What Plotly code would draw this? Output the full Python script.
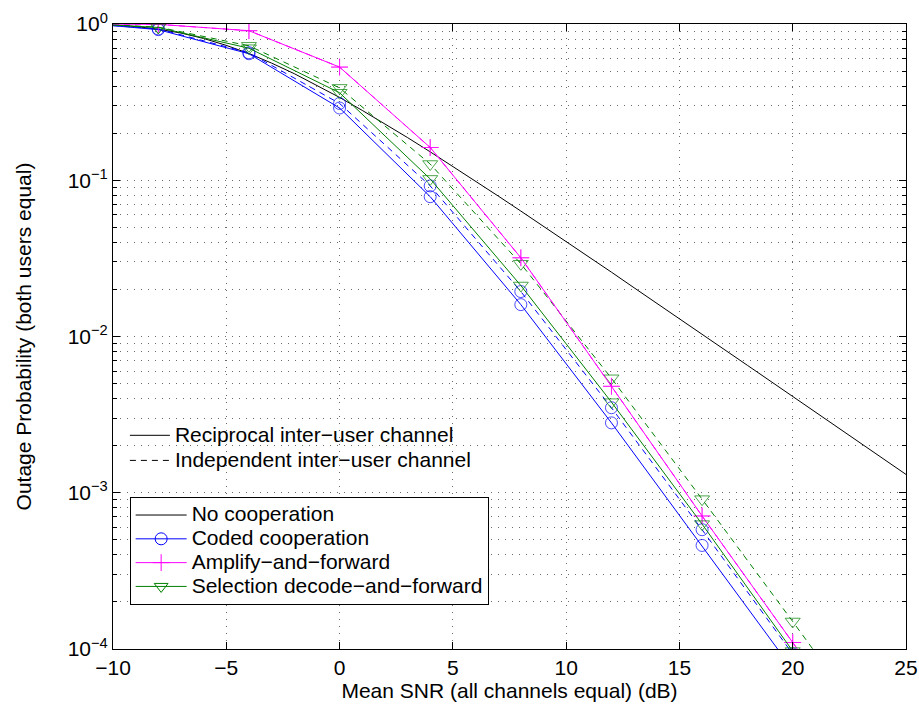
import plotly.graph_objects as go

# ---------------- data ----------------
snr_nocoop = [-10, -9, -8, -7, -6, -5, -4, -3, -2, -1, 0, 1, 2, 3, 4, 5, 6, 7, 8, 9, 10,
              11, 12, 13, 14, 15, 16, 17, 18, 19, 20, 21, 22, 23, 24, 25]
p_nocoop = [0.984, 0.963, 0.927, 0.875, 0.808, 0.730, 0.647, 0.562, 0.481, 0.406, 0.339,
            0.280, 0.230, 0.1875, 0.152, 0.1228, 0.0988, 0.0793, 0.0635, 0.0508, 0.0406,
            0.0324, 0.0258, 0.0205, 0.01635, 0.0130, 0.01035, 0.00823, 0.00654, 0.0052,
            0.00413, 0.00329, 0.00261, 0.00208, 0.00165, 0.00131]

snr_coop = [-10, -8, -4, 0, 4, 8, 12, 16, 20, 24]
coded_recip = [0.975, 0.92, 0.645, 0.29, 0.0785, 0.016, 0.0028, 0.00046, 7.5e-5, 1.2e-5]
coded_indep = [0.978, 0.93, 0.655, 0.31, 0.092, 0.0194, 0.0035, 0.00058, 9.3e-5, 1.5e-5]
af_recip = [0.998, 0.995, 0.906, 0.53, 0.162, 0.0319, 0.0048, 0.00071, 0.00011, 1.7e-5]
af_indep = [0.998, 0.995, 0.906, 0.53, 0.162, 0.0319, 0.0048, 0.00071, 0.00011, 1.7e-5]
sdf_recip = [0.985, 0.95, 0.70, 0.363, 0.102, 0.0212, 0.0038, 0.00063, 9.7e-5, 1.5e-5]
sdf_indep = [0.987, 0.955, 0.725, 0.39, 0.127, 0.0292, 0.0054, 0.00091, 0.00015, 2.4e-5]

ytick_vals = [1e-4, 1e-3, 1e-2, 1e-1, 1]
ytick_text = ["10<sup>\u22124</sup>", "10<sup>\u22123</sup>", "10<sup>\u22122</sup>",
              "10<sup>\u22121</sup>", "10<sup>0</sup>"]

legend_names = ["No cooperation", "Coded cooperation", "Amplify\u2212and\u2212forward",
                "Selection decode\u2212and\u2212forward"]
style_names = ["Reciprocal inter\u2212user channel", "Independent inter\u2212user channel"]

# ---------------- styles ----------------
BLUE = "#0000FF"
MAG = "#FF00FF"
GREEN = "#008000"
BLACK = "#000000"
DASH = "6px,5px"
FONT = "Liberation Sans, Arial, Helvetica, sans-serif"
LEG_TXT = '<span style="font-size:21px">{}</span>'

fig = go.Figure()

fig.add_trace(go.Scatter(x=snr_nocoop, y=p_nocoop, mode="lines",
                         line=dict(color=BLACK, width=1), showlegend=False))

def coop(y, color, symbol, msize, dash):
    sizes = [0] + [msize] * (len(snr_coop) - 1)
    fig.add_trace(go.Scatter(
        x=snr_coop, y=y, mode="lines+markers",
        line=dict(color=color, width=1, dash=dash),
        marker=dict(symbol=symbol, size=sizes, color=color,
                    line=dict(color=color, width=1)),
        showlegend=False))

coop(coded_indep, BLUE, "circle-open", 12, DASH)
coop(af_indep, MAG, "cross-thin-open", 12, DASH)
coop(sdf_indep, GREEN, "triangle-down-open", 13, DASH)
coop(coded_recip, BLUE, "circle-open", 12, "solid")
coop(af_recip, MAG, "cross-thin-open", 12, "solid")
coop(sdf_recip, GREEN, "triangle-down-open", 13, "solid")

# legend entries (boxed legend)
leg_styles = [(BLACK, None), (BLUE, "circle-open"), (MAG, "cross-thin-open"),
              (GREEN, "triangle-down-open")]
for name, (c, sym) in zip(legend_names, leg_styles):
    fig.add_trace(go.Scatter(
        x=[None], y=[None], name=LEG_TXT.format(name),
        mode="lines+markers" if sym else "lines",
        line=dict(color=c, width=1),
        marker=dict(symbol=sym if sym else "circle", size=12, color=c,
                    line=dict(color=c, width=1)),
        legend="legend"))

# line-style legend (no box)
for name, d in zip(style_names, ["solid", DASH]):
    fig.add_trace(go.Scatter(x=[None], y=[None], name=LEG_TXT.format(name), mode="lines",
                             line=dict(color=BLACK, width=1, dash=d),
                             legend="legend2"))

grid_common = dict(showgrid=True, gridcolor="#6a6a6a", gridwidth=1, griddash="1px,6px")

fig.update_xaxes(range=[-10, 25], dtick=5, tick0=0, ticks="inside", ticklen=7,
                 tickcolor=BLACK, showline=True, linecolor=BLACK, linewidth=1,
                 mirror="ticks", zeroline=False, automargin=False,
                 tickfont=dict(family=FONT, size=21, color=BLACK),
                 title=dict(text="Mean SNR (all channels equal) (dB)",
                            font=dict(family=FONT, size=21, color=BLACK), standoff=5),
                 **grid_common)

fig.update_yaxes(type="log", range=[-4, 0], tickmode="array", tickvals=ytick_vals,
                 ticktext=ytick_text, ticks="inside", ticklen=7, tickcolor=BLACK,
                 showline=True, linecolor=BLACK, linewidth=1, mirror="ticks",
                 zeroline=False, automargin=False,
                 tickfont=dict(family=FONT, size=21, color=BLACK),
                 title=dict(text="Outage Probability (both users equal)",
                            font=dict(family=FONT, size=21, color=BLACK), standoff=30),
                 minor=dict(dtick="D1", ticks="inside", ticklen=4, tickcolor=BLACK,
                            showgrid=True, gridcolor="#6a6a6a", griddash="1px,6px"),
                 **grid_common)

fig.update_layout(
    width=919, height=708,
    margin=dict(l=113, r=13, t=24, b=59),
    paper_bgcolor="white", plot_bgcolor="white",
    font=dict(family=FONT, size=20, color=BLACK),
    legend=dict(x=0.021, y=0.243, xanchor="left", yanchor="top",
                bgcolor="white", bordercolor=BLACK, borderwidth=1,
                font=dict(family=FONT, size=16, color=BLACK),
                tracegroupgap=0, itemwidth=51),
    legend2=dict(x=0.015, y=0.37, xanchor="left", yanchor="top",
                 bgcolor="rgba(0,0,0,0)", borderwidth=0,
                 font=dict(family=FONT, size=17, color=BLACK), itemwidth=40),
)

fig.write_html("out.html")
